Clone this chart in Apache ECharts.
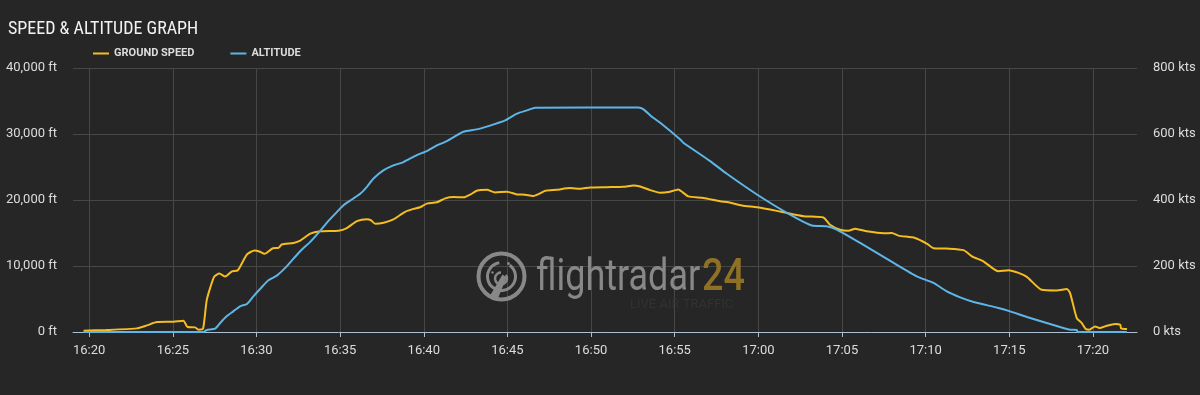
<!DOCTYPE html>
<html>
<head>
<meta charset="utf-8">
<script src="https://cdn.jsdelivr.net/npm/echarts@6/dist/echarts.min.js"></script>
<style>
html,body{margin:0;padding:0;background:#262626;}
#chart{width:1200px;height:395px;}
</style>
</head>
<body>
<div id="chart"></div>
<script>
// ---- data (clock times) ----
const speedTimes = ["16:19:40","16:21:00","16:22:50","16:23:27","16:24:03","16:25:02","16:25:38","16:25:53","16:26:20","16:26:32","16:26:48","16:27:02","16:27:28","16:27:47","16:28:08","16:28:32","16:28:53","16:29:26","16:29:53","16:30:10","16:30:29","16:30:59","16:31:19","16:31:31","16:32:13","16:32:37","16:33:13","16:33:49","16:34:54","16:35:24","16:36:00","16:36:36","16:36:50","16:37:06","16:37:36","16:38:11","16:38:53","16:39:23","16:39:47","16:40:11","16:40:47","16:41:17","16:41:47","16:42:23","16:42:46","16:43:10","16:43:46","16:44:16","16:44:58","16:45:34","16:46:04","16:46:31","16:46:52","16:47:16","16:47:57","16:48:45","16:49:21","16:49:57","16:50:56","16:51:56","16:52:32","16:52:56","16:53:32","16:54:08","16:54:38","16:55:13","16:55:26","16:55:49","16:56:43","16:57:43","16:58:13","16:59:01","16:59:55","17:00:42","17:01:30","17:02:42","17:03:53","17:04:17","17:04:53","17:05:23","17:05:47","17:06:29","17:07:29","17:07:59","17:08:22","17:09:22","17:10:04","17:10:28","17:11:16","17:12:16","17:12:46","17:13:27","17:14:21","17:14:57","17:15:33","17:16:03","17:16:56","17:17:50","17:18:26","17:18:38","17:19:02","17:19:20","17:19:34","17:19:47","17:20:08","17:20:23","17:20:50","17:21:20","17:21:38","17:21:41","17:22:02"];
const speedKts = [4,6,11,20,30,31,34,15,14,7,9,98,167,177,168,184,187,235,247,244,237,254,255,265,270,277,298,305,307,315,336,342,339,328,331,341,364,373,378,389,393,405,409,408,416,428,431,423,425,417,416,412,418,428,431,436,434,438,439,440,444,441,430,422,424,432,425,411,406,396,393,383,378,371,363,351,347,325,310,307,313,305,299,300,292,285,268,254,253,248,229,214,184,187,179,167,128,126,130,118,42,27,9,7,17,12,19,24,22,11,9];

const altTimes = ["16:19:40","16:26:50","16:27:02","16:27:32","16:27:50","16:28:13","16:28:37","16:29:01","16:29:26","16:29:49","16:30:13","16:30:43","16:31:13","16:31:43","16:32:13","16:32:43","16:33:13","16:33:42","16:34:12","16:34:42","16:35:12","16:35:42","16:36:12","16:36:36","16:36:59","16:37:35","16:38:11","16:38:47","16:39:35","16:40:11","16:40:47","16:41:23","16:41:53","16:42:22","16:43:10","16:43:52","16:44:52","16:45:34","16:46:10","16:46:40","16:52:50","16:53:08","16:53:38","16:54:08","16:55:20","16:55:31","16:57:07","16:58:07","16:59:55","17:01:42","17:03:12","17:04:05","17:04:41","17:06:05","17:08:05","17:09:28","17:10:28","17:11:16","17:12:04","17:12:52","17:14:21","17:15:03","17:16:03","17:17:14","17:18:02","17:18:38","17:19:02","17:19:05","17:22:02"];
const altFt = [0,0,300,500,1370,2370,3130,3890,4250,5400,6520,7830,8540,9710,11120,12490,13660,15020,16540,17900,19210,20080,20950,22000,23220,24480,25240,25740,26800,27410,28270,28920,29680,30350,30700,31200,32060,33080,33580,33990,34000,33730,32620,31710,29180,28680,25890,23970,20830,18060,16130,16020,15520,13500,10470,8440,7430,6160,5250,4550,3640,3130,2280,1370,760,350,300,0,0];

const xStart = "16:19:02";
const xEnd = "17:22:38";
const timeTicks = ["16:20","16:25","16:30","16:35","16:40","16:45","16:50","16:55","17:00","17:05","17:10","17:15","17:20"];
const altTicks = [0, 10000, 20000, 30000, 40000];
const speedTicks = [0, 200, 400, 600, 800];

const seriesNames = ["GROUND SPEED", "ALTITUDE"];
const titleText = "SPEED & ALTITUDE GRAPH";

// ---- helpers: clock time -> minutes since 16:00 ----
function mins(s){
  const p = s.split(":").map(Number);
  return (p[0] - 16) * 60 + p[1] + (p[2] || 0) / 60;
}
function pairs(times, vals){ return times.map((t,i)=>[mins(t), vals[i]]); }
function pad(n){ return (n<10?'0':'')+n; }
function clock(m){
  const t = Math.round(m);
  return pad(16 + Math.floor(t / 60)) + ':' + pad(t % 60);
}

const tickValues = timeTicks.map(mins);

const labelColor = '#dcdcdc';
const gridColor = '#474747';
const axisColor = '#a9bfd2';
const yellow = '#f6bd21';
const blue = '#5db5e8';
const ff = 'Roboto, "Noto Sans", sans-serif';

const chart = echarts.init(document.getElementById('chart'), null, {renderer:'canvas'});

const logoGray = '#888888';
const cx = 501.5, cy = 276.5;

chart.setOption({
  backgroundColor: '#262626',
  animation: false,
  textStyle: { fontFamily: ff },
  title: {
    text: titleText,
    left: 3, top: 15,
    textStyle: { color: '#f2f2f2', fontSize: 18, fontWeight: 'normal', fontFamily: '"Roboto Condensed", "Liberation Sans Narrow", Roboto, sans-serif' }
  },
  legend: {
    data: seriesNames,
    left: 88, top: 43,
    icon: 'rect',
    itemWidth: 16, itemHeight: 2,
    itemGap: 36,
    textStyle: { color: labelColor, fontSize: 11, fontWeight: 'bold', fontFamily: ff }
  },
  grid: { left: 73, right: 63, top: 68, bottom: 63, containLabel: false },
  xAxis: {
    type: 'value',
    min: mins(xStart), max: mins(xEnd),
    axisLine: { show: true, onZero: false, lineStyle: { color: axisColor, width: 1 } },
    axisTick: { show: true, length: 5, customValues: tickValues, lineStyle: { color: axisColor } },
    axisLabel: {
      color: labelColor, fontSize: 13, margin: 12, fontFamily: ff,
      customValues: tickValues,
      formatter: function(v){ return clock(v); }
    },
    splitLine: { show: false }
  },
  yAxis: [
    {
      type: 'value', position: 'left',
      min: altTicks[0], max: altTicks[altTicks.length-1], interval: altTicks[1]-altTicks[0],
      axisLine: { show: false }, axisTick: { show: false },
      axisLabel: { color: labelColor, fontSize: 13, margin: 16, fontFamily: ff,
        formatter: function(v){ return v.toLocaleString('en-US') + ' ft'; } },
      splitLine: { show: true, lineStyle: { color: gridColor, width: 1 } }
    },
    {
      type: 'value', position: 'right',
      min: speedTicks[0], max: speedTicks[speedTicks.length-1], interval: speedTicks[1]-speedTicks[0],
      axisLine: { show: false }, axisTick: { show: false },
      axisLabel: { color: labelColor, fontSize: 13, margin: 16, fontFamily: ff,
        formatter: function(v){ return v + ' kts'; } },
      splitLine: { show: false }
    }
  ],
  graphic: [
    { type: 'circle', z: 1, shape: { cx: cx, cy: cy, r: 23 }, style: { fill: 'none', stroke: logoGray, lineWidth: 4 } },
    { type: 'arc', z: 1, shape: { cx: cx, cy: cy, r: 14, startAngle: -Math.PI*0.3, endAngle: Math.PI*1.45 }, style: { fill: 'none', stroke: logoGray, lineWidth: 3 } },
    { type: 'arc', z: 1, shape: { cx: cx-0.5, cy: cy+2, r: 6, startAngle: -Math.PI*0.2, endAngle: Math.PI*1.5 }, style: { fill: 'none', stroke: logoGray, lineWidth: 2.5 } },
    { type: 'polygon', z: 1, shape: { points: [[cx+1, cy-2],[cx+5, cy+1],[cx-4, cy+23],[cx-12, cy+20]] }, style: { fill: logoGray } },
    { type: 'circle', z: 1, shape: { cx: cx+7, cy: cy-13, r: 1.5 }, style: { fill: logoGray } },
    { type: 'circle', z: 1, shape: { cx: cx-9, cy: cy-4, r: 1.2 }, style: { fill: logoGray } },
    { type: 'text', z: 1, x: 536, y: 279, scaleX: 0.8, style: { text: 'flightradar', font: '400 45px Roboto', fill: logoGray, verticalAlign: 'middle', align: 'left' } },
    { type: 'text', z: 1, x: 702, y: 279, scaleX: 0.84, style: { text: '24', font: '500 45px Roboto', fill: '#8f7126', verticalAlign: 'middle', align: 'left' } },
    { type: 'text', z: 1, x: 630, y: 305, style: { text: 'LIVE AIR TRAFFIC', font: '13px Roboto', fill: '#323232', verticalAlign: 'middle', align: 'left' } }
  ],
  series: [
    {
      name: seriesNames[0], type: 'line', yAxisIndex: 1,
      data: pairs(speedTimes, speedKts),
      showSymbol: false, smooth: 0.2, z: 3,
      lineStyle: { color: yellow, width: 2 }, itemStyle: { color: yellow },
      markLine: {
        silent: true, symbol: 'none', z: 0,
        label: { show: false },
        lineStyle: { color: gridColor, width: 1, type: 'solid' },
        emphasis: { disabled: true },
        data: tickValues.map(v => ({ xAxis: v }))
      }
    },
    {
      name: seriesNames[1], type: 'line', yAxisIndex: 0,
      data: pairs(altTimes, altFt),
      showSymbol: false, smooth: 0.2, z: 3,
      lineStyle: { color: blue, width: 2 }, itemStyle: { color: blue }
    }
  ]
});
</script>
</body>
</html>
